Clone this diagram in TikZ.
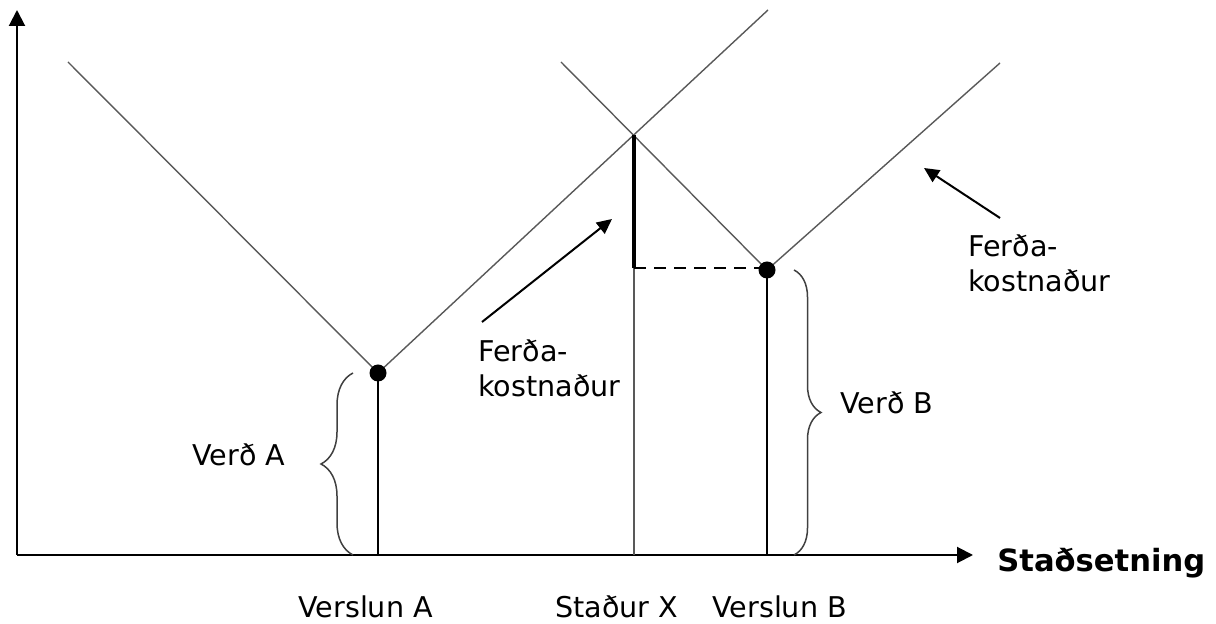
\documentclass[tikz,border=0pt]{standalone}
\usepackage{fontspec}
\setmainfont{DejaVu Sans}
\usetikzlibrary{arrows.meta,decorations.pathreplacing}
\begin{document}
\begin{tikzpicture}[x=0.5pt,y=-0.5pt,
  axis/.style={line width=1pt,-{Triangle[length=8pt,width=8pt]}},
  vline/.style={line width=0.7pt,draw=black!65},
  post/.style={line width=1pt,draw=black},
  pointer/.style={line width=1pt,-{Triangle[length=7.5pt,width=7pt]}},
  brc/.style={decorate,draw=black!75,line width=0.75pt,decoration={brace,amplitude=#1}},
  dot/.style={circle,fill=black,inner sep=0pt,minimum size=8.5pt},
  lbl/.style={inner sep=0pt,font=\fontsize{14.3}{17.5}\selectfont,align=left},
  axlbl/.style={inner sep=0pt,font=\fontsize{15.3}{18}\selectfont\bfseries}]
\useasboundingbox (0,0) rectangle (1216,624);

% axes
\coordinate (O) at (17,555);
\coordinate (Ytop) at (17,10);
\coordinate (Xend) at (973,555);
\draw[axis] (O) -- (Ytop);
\draw[axis] (O) -- (Xend);

% shops and the crossing point
\coordinate (A) at (378,373);
\coordinate (B) at (767,270);
\coordinate (X) at (634,135);
\coordinate (Abase) at (378,555);
\coordinate (Bbase) at (767,555);
\coordinate (Xbase) at (634,555);
\coordinate (Xlev) at (634,268);
\coordinate (Blev) at (767,268);

% total cost lines
\coordinate (LA1) at (68,62);
\coordinate (LA2) at (768,10);
\coordinate (RB1) at (561,62);
\coordinate (RB2) at (1000,63);
\draw[vline] (LA1) -- (A) -- (LA2);
\draw[vline] (RB1) -- (B) -- (RB2);

% verticals
\draw[post] (A) -- (Abase);
\draw[post] (B) -- (Bbase);
\draw[vline] (Xlev) -- (Xbase);
\draw[line width=2pt] (X) -- (Xlev);
\draw[line width=1pt,dash pattern=on 6pt off 4pt] (Xlev) -- (Blev);

\node[dot] (dA) at (A) {};
\node[dot] (dB) at (B) {};

% braces
\coordinate (brA1) at (353,555);
\coordinate (brA2) at (353,373);
\coordinate (brB1) at (794,270);
\coordinate (brB2) at (794,555);
\draw[brc=16pt] (brA1) -- (brA2);
\draw[brc=13.5pt] (brB1) -- (brB2);

% pointers
\coordinate (p1s) at (482,322);
\coordinate (p1e) at (612,219);
\coordinate (p2s) at (1000,218);
\coordinate (p2e) at (924,168);
\draw[pointer] (p1s) -- (p1e);
\draw[pointer] (p2s) -- (p2e);

% labels
\node[lbl,anchor=west] (fk1) at (478,368) {Ferða-\\kostnaður};
\node[lbl,anchor=west] (fk2) at (968,263) {Ferða-\\kostnaður};
\node[lbl,anchor=west] (vA) at (192,455) {Verð A};
\node[lbl,anchor=west] (vB) at (840,403) {Verð B};
\node[lbl,anchor=west] (sA) at (298,607) {Verslun A};
\node[lbl,anchor=west] (sX) at (555,607) {Staður X};
\node[lbl,anchor=west] (sB) at (712,607) {Verslun B};
\node[axlbl,anchor=west] (st) at (997,563) {Staðsetning};
\end{tikzpicture}
\end{document}
